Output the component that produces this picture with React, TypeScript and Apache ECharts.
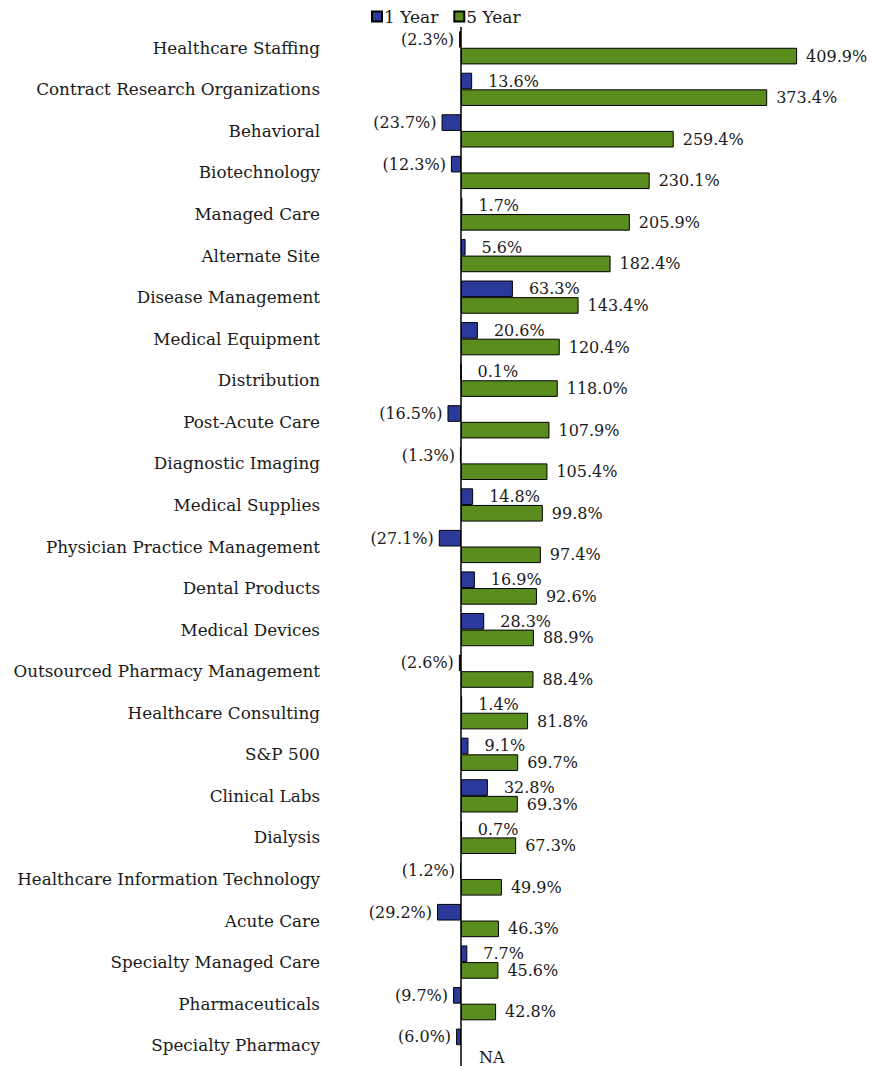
import React, { useEffect, useRef } from "react";
import * as echarts from "echarts";

const categories = [
  "Healthcare Staffing",
  "Contract Research Organizations",
  "Behavioral",
  "Biotechnology",
  "Managed Care",
  "Alternate Site",
  "Disease Management",
  "Medical Equipment",
  "Distribution",
  "Post-Acute Care",
  "Diagnostic Imaging",
  "Medical Supplies",
  "Physician Practice Management",
  "Dental Products",
  "Medical Devices",
  "Outsourced Pharmacy Management",
  "Healthcare Consulting",
  "S&P 500",
  "Clinical Labs",
  "Dialysis",
  "Healthcare Information Technology",
  "Acute Care",
  "Specialty Managed Care",
  "Pharmaceuticals",
  "Specialty Pharmacy",
];

const oneYear = [
  -2.3, 13.6, -23.7, -12.3, 1.7, 5.6, 63.3, 20.6, 0.1, -16.5, -1.3, 14.8, -27.1,
  16.9, 28.3, -2.6, 1.4, 9.1, 32.8, 0.7, -1.2, -29.2, 7.7, -9.7, -6.0,
];

const fiveYear: (number | null)[] = [
  409.9, 373.4, 259.4, 230.1, 205.9, 182.4, 143.4, 120.4, 118.0, 107.9, 105.4,
  99.8, 97.4, 92.6, 88.9, 88.4, 81.8, 69.7, 69.3, 67.3, 49.9, 46.3, 45.6, 42.8,
  null,
];

const FONT = "DejaVu Serif";

const fmt = (v: number) =>
  v < 0 ? `(${Math.abs(v).toFixed(1)}%)` : `${v.toFixed(1)}%`;

export default function App() {
  const ref = useRef<HTMLDivElement>(null);
  useEffect(() => {
    document.body.style.margin = "0";
    if (!ref.current) return;
    const chart = echarts.init(ref.current, undefined, { renderer: "svg" });
    const labelStyle = {
      fontFamily: FONT,
      fontSize: 16,
      color: "#1a1a1a",
    };
    chart.setOption({
      animation: false,
      legend: {
        left: 366,
        top: 3,
        itemWidth: 10,
        itemHeight: 10,
        itemGap: 15,
        icon: "rect",
        textStyle: { ...labelStyle, fontSize: 17, padding: [0, 0, 0, -3] },
        data: ["1 Year", "5 Year"],
      },
      grid: { left: 420, right: 41, top: 27, height: 1040 },
      xAxis: {
        type: "value",
        min: -50,
        max: 450,
        show: false,
      },
      yAxis: {
        type: "category",
        data: categories,
        inverse: true,
        axisLine: { show: false },
        axisTick: { show: false },
        axisLabel: { ...labelStyle, fontSize: 16.8, margin: 100 },
      },
      series: [
        {
          name: "1 Year",
          type: "bar",
          barGap: "0%",
          barCategoryGap: "20%",
          itemStyle: { color: "#2B3A9A", borderColor: "#000", borderWidth: 1 },
          data: oneYear.map((v) => ({
            value: v,
            label: {
              position: v < 0 ? "left" : "right",
              distance: v < 0 ? 5 : 16,
            },
          })),
          label: {
            show: true,
            ...labelStyle,
            formatter: (p: any) => fmt(p.value),
          },
          markLine: {
            silent: true,
            symbol: "none",
            label: { show: false },
            lineStyle: { color: "#000", width: 1.5, type: "solid" },
            data: [{ xAxis: 0 }],
          },
        },
        {
          name: "5 Year",
          type: "bar",
          barGap: "0%",
          barCategoryGap: "20%",
          itemStyle: { color: "#5B8C1E", borderColor: "#000", borderWidth: 1 },
          data: fiveYear.map((v) =>
            v === null
              ? {
                  value: 0,
                  itemStyle: { borderWidth: 0 },
                  label: { formatter: "NA", distance: 18, offset: [0, 4] },
                }
              : { value: v }
          ),
          label: {
            show: true,
            position: "right",
            distance: 9,
            ...labelStyle,
            formatter: (p: any) => fmt(p.value),
          },
        },
      ],
    });
    return () => chart.dispose();
  }, []);
  return <div ref={ref} style={{ width: 871, height: 1066 }} />;
}
